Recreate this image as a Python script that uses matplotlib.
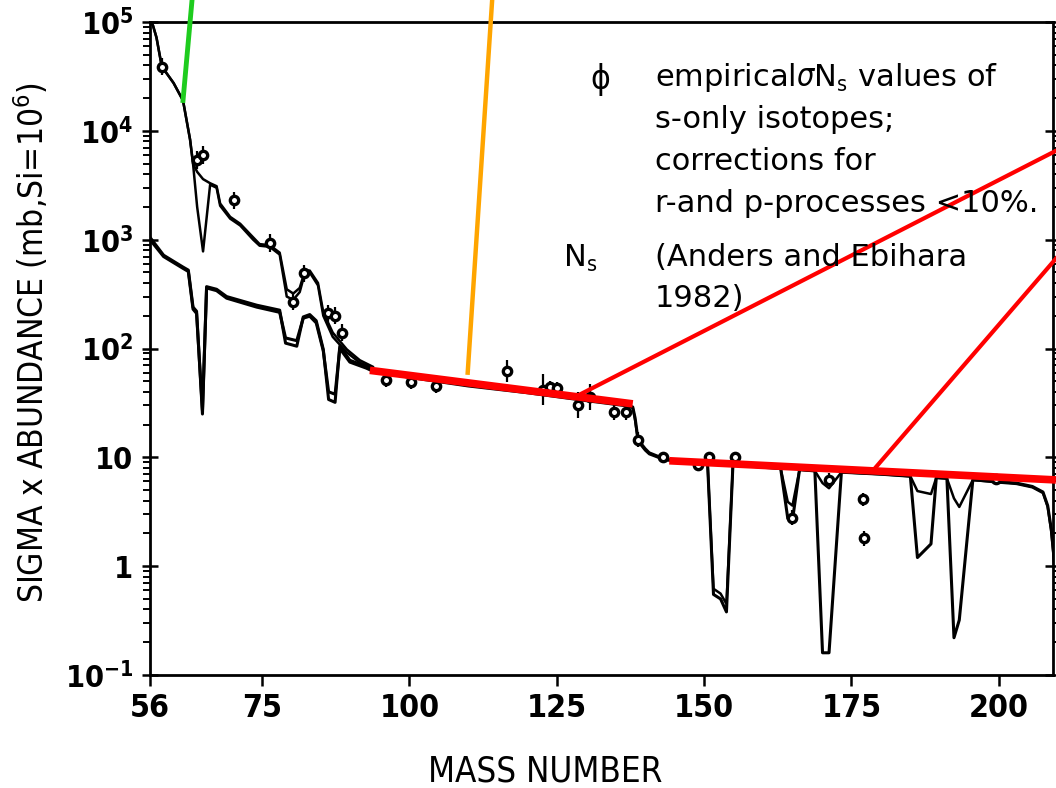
import numpy as np
import matplotlib
matplotlib.use("Agg")
import matplotlib.pyplot as plt
from matplotlib.ticker import FixedLocator, FixedFormatter, LogLocator, NullFormatter

plt.rcParams['font.family'] = ['DejaVu Sans']
plt.rcParams['font.stretch'] = 'condensed'
plt.rcParams['mathtext.fontset'] = 'dejavusans'

# sigma*N_s curve (two traced lines) for A < 94
up_x = [56.1, 56.5, 57.1, 58.0, 60.0, 61.6, 62.8, 63.3, 64.0, 65.0, 66.2, 67.3, 67.9, 69.6,
        71.3, 73.5, 74.6, 76.3, 78.0, 79.2, 80.3, 81.4, 82.3, 83.1, 84.5, 85.4, 87.0, 89.4,
        91.6, 93.8]
up_a = [100000, 93000, 72000, 39000, 27500, 19000, 8300, 5000, 4200, 3600, 3300, 3100, 2150, 1620,
        1400, 1050, 910, 890, 760, 350, 320, 360, 520, 520, 400, 215, 140, 98,
        78, 68]
up_b = [100000, 93000, 72000, 39000, 27500, 19000, 8300, 5000, 2000, 780, 3200, 3000, 2050, 1560,
        1350, 1000, 880, 860, 730, 300, 280, 330, 500, 500, 380, 200, 128, 92,
        74, 66]

# N_s curve (two traced lines) for A < 94
lo_x = [56.0, 58.3, 61.6, 62.5, 63.3, 63.9, 64.9, 65.6, 67.3, 69.0, 74.1, 78.0, 79.0, 80.9,
        82.0, 83.1, 84.2, 85.4, 86.3, 87.4, 88.2, 89.9, 92.7, 93.8]
lo_a = [1050, 720, 560, 525, 240, 220, 25, 370, 350, 300, 250, 225, 112, 105,
        195, 205, 180, 98, 34, 32, 105, 78, 68, 63]
lo_b = [1000, 700, 545, 510, 230, 210, 27, 360, 340, 290, 240, 215, 125, 118,
        190, 198, 172, 95, 40, 38, 100, 75, 66, 62]

# merged curve for A >= 94 (outer and inner traced lines)
hv_x = [93.8, 100, 110, 120, 130, 137, 137.9, 138.3, 138.8, 140.0, 140.7, 143.0, 146.0,
        150.6, 151.6, 152.8, 153.8, 154.9, 160.0,
        163.0, 164.2, 165.0, 166.2,
        168.8, 170.1, 171.2, 173.3, 180.0,
        185.0, 186.2, 188.5, 189.4,
        191.2, 192.4, 193.3, 195.6,
        199.5, 203.0, 205.7, 207.5, 208.3, 208.9, 209.3, 209.6, 210.0]
hv_outer = [63, 55, 46, 40, 34, 30, 29, 23, 14.5, 12, 11, 9.8, 9.0,
            8.7, 0.55, 0.50, 0.38, 8.6, 8.1,
            7.9, 2.75, 2.65, 7.7,
            7.5, 0.16, 0.16, 7.3, 7.0,
            6.7, 1.2, 1.6, 6.5,
            6.4, 0.22, 0.32, 6.2,
            6.0, 5.8, 5.4, 4.8, 3.6, 2.2, 1.3, 0.8, 0.4]
hv_inner = [62, 54, 45, 39, 33, 29.5, 28.5, 22, 14, 11.6, 10.7, 9.6, 8.9,
            8.7, 0.62, 0.56, 0.45, 8.6, 8.1,
            7.9, 3.9, 3.6, 7.7,
            7.5, 5.8, 5.2, 7.3, 7.0,
            6.7, 4.9, 4.6, 6.5,
            6.4, 4.2, 3.5, 6.2,
            5.9, 5.7, 5.3, 4.7, 3.5, 2.1, 1.25, 0.75, 0.35]

# empirical sigma*N_s of s-only isotopes
pt_x = [58.0, 63.9, 65.0, 70.3, 76.3, 80.2, 82.1, 86.2, 87.4, 88.5,
        96.1, 100.3, 104.5, 116.6, 122.6, 123.8, 125.0, 128.6, 130.7, 134.8,
        136.8, 138.8, 143.0, 148.9, 150.9, 155.2, 165.0, 171.2, 177.0, 177.2, 199.5]
pt_y = [39000, 5400, 6000, 2300, 930, 270, 490, 210, 200, 140,
        51, 49, 45, 62, 42, 44, 43, 30, 36, 26,
        26, 14.5, 10, 8.5, 10, 10, 2.8, 6.2, 4.1, 1.8, 6.3]
pt_err = [0.08, 0.08, 0.08, 0.08, 0.08, 0.08, 0.08, 0.08, 0.08, 0.08,
          0.06, 0.06, 0.06, 0.10, 0.14, 0.06, 0.06, 0.12, 0.12, 0.07,
          0.07, 0.07, 0.05, 0.05, 0.05, 0.05, 0.07, 0.06, 0.06, 0.07, 0.05]

# overlaid marker lines (x pairs, y pairs)
red_fit1 = ([93.3, 137.9], [63, 31])
red_fit2 = ([144.1, 209.7], [9.3, 6.2])
red_ptr1 = ([128.6, 209.8], [37, 6600])
red_ptr2 = ([178.6, 209.8], [7.5, 680])
green_ptr = ([61.6, 63.2], [19000, 175000])
orange_ptr = ([109.9, 114.1], [60, 175000])

fig = plt.figure(figsize=(10.56, 7.88), dpi=100)
ax = fig.add_axes([150/1056, 1-675/788, 903/1056, 653/788])

lw = 1.8
ax.plot(up_x, up_a, color='black', lw=lw)
ax.plot(up_x, up_b, color='black', lw=lw)
ax.plot(lo_x, lo_a, color='black', lw=lw + 0.4)
ax.plot(lo_x, lo_b, color='black', lw=lw + 0.4)
ax.plot(hv_x, hv_outer, color='black', lw=lw + 0.4)
ax.plot(hv_x, hv_inner, color='black', lw=lw)

y = np.array(pt_y)
e = np.array(pt_err)
ax.errorbar(pt_x, y, yerr=[y - y/10**e, y*10**e - y], fmt='o', ms=6, mfc='white',
            mec='black', mew=2.4, ecolor='black', elinewidth=1.6, capsize=0, zorder=4)

ax.plot(*red_fit1, color='#ff0000', lw=5.5, solid_capstyle='butt', zorder=6, clip_on=False)
ax.plot(*red_fit2, color='#ff0000', lw=5.5, solid_capstyle='butt', zorder=6, clip_on=False)
ax.plot(*red_ptr1, color='#ff0000', lw=3, zorder=6, clip_on=False)
ax.plot(*red_ptr2, color='#ff0000', lw=3, zorder=6, clip_on=False)
ax.plot(*green_ptr, color='#1ecc1e', lw=3.5, zorder=6, clip_on=False)
ax.plot(*orange_ptr, color='#ffa500', lw=3.2, zorder=6, clip_on=False)

ax.set_yscale('log')
ax.set_xlim(56, 209.2)
ax.set_ylim(0.1, 1e5)

ax.xaxis.set_major_locator(FixedLocator([56, 75, 100, 125, 150, 175, 200]))
ax.yaxis.set_major_locator(FixedLocator([0.1, 1, 10, 100, 1e3, 1e4, 1e5]))
ax.yaxis.set_major_formatter(FixedFormatter(['$\\mathbf{10^{-1}}$', '1', '10', '$\\mathbf{10^2}$',
                                             '$\\mathbf{10^3}$', '$\\mathbf{10^4}$',
                                             '$\\mathbf{10^5}$']))
ax.yaxis.set_minor_locator(LogLocator(base=10, subs=np.arange(2, 10)))
ax.yaxis.set_minor_formatter(NullFormatter())
ax.tick_params(axis='x', which='major', direction='out', length=8, width=1.8, labelsize=23, pad=5)
ax.tick_params(axis='y', which='major', direction='inout', length=12, width=1.8, labelsize=22,
               right=True, pad=6)
ax.tick_params(axis='y', which='minor', direction='out', length=5, width=1.4, right=True)
for lab in ax.get_xticklabels() + ax.get_yticklabels():
    lab.set_fontweight('bold')
for s in ax.spines.values():
    s.set_linewidth(2)

fig.text(32/1056, 1-342/788, 'SIGMA x ABUNDANCE (mb,Si=10$^6$)', rotation=90,
         ha='center', va='center', fontsize=24)
fig.text(545/1056, 1-771/788, 'MASS NUMBER', ha='center', va='center', fontsize=25)

fs = 22
kw = dict(va='center', fontsize=fs, fontstretch='normal')
fig.text(600/1056, 1-80/788, '\u03d5', ha='center', va='center', fontsize=24)
fig.text(655/1056, 1-78/788, 'empirical$\\sigma$N$_\\mathrm{s}$ values of', **kw)
fig.text(655/1056, 1-120/788, 's-only isotopes;', **kw)
fig.text(655/1056, 1-162/788, 'corrections for', **kw)
fig.text(655/1056, 1-203/788, 'r-and p-processes <10%.', **kw)
fig.text(563/1056, 1-258/788, 'N$_\\mathrm{s}$', **kw)
fig.text(655/1056, 1-258/788, '(Anders and Ebihara', **kw)
fig.text(655/1056, 1-298/788, '1982)', **kw)

fig.savefig('out.png', dpi=100)
